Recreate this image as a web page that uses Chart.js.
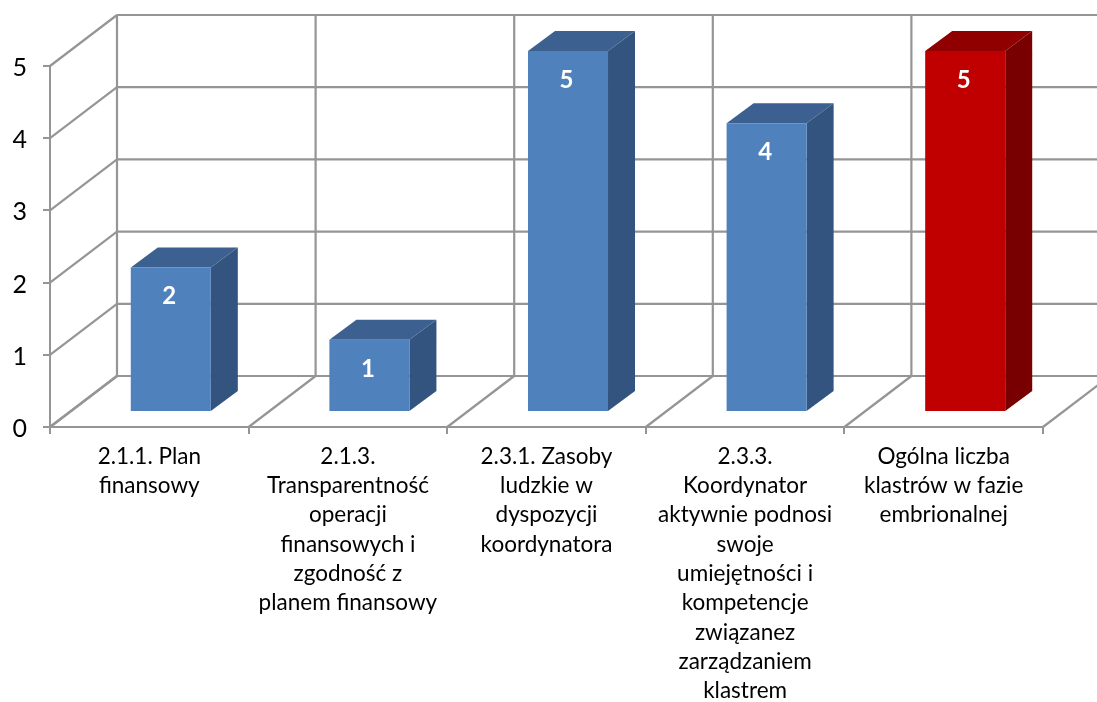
<!DOCTYPE html>
<html><head><meta charset="utf-8">
<style>html,body{margin:0;padding:0;background:#fff}canvas{display:block}</style>
<script src="https://cdn.jsdelivr.net/npm/chart.js@4/dist/chart.umd.min.js"></script>
</head><body><canvas id="c" width="1097" height="702"></canvas>
<script>
const categories = [
  ["2.1.1. Plan","finansowy"],
  ["2.1.3.","Transparentność","operacji","finansowych i","zgodność z","planem finansowy"],
  ["2.3.1. Zasoby","ludzkie w","dyspozycji","koordynatora"],
  ["2.3.3.","Koordynator","aktywnie podnosi","swoje","umiejętności i","kompetencje","związanez","zarządzaniem","klastrem"],
  ["Ogólna liczba","klastrów w fazie","embrionalnej"]
];
const values = [2, 1, 5, 4, 5];
const frontColors = ["#4f81bd","#4f81bd","#4f81bd","#4f81bd","#c00000"];
const topColors = ["#3c6190","#3c6190","#3c6190","#3c6190","#900000"];
const sideColors = ["#32547e","#32547e","#32547e","#32547e","#790000"];
const GRID = "#959595";
const WALL = {x:67, y:-51};
const BAR_SHIFT = {x:21.5, y:-15};
const BAR_DEPTH = {x:27, y:-20};

const scene = {
  id:"scene",
  beforeDatasetsDraw(ch){
    const {ctx, scales:{x,y}} = ch, a = ch.chartArea;
    ctx.save();
    ctx.strokeStyle = GRID; ctx.lineWidth = 2.2;
    const seg=(x1,y1,x2,y2)=>{ctx.beginPath();ctx.moveTo(x1,y1);ctx.lineTo(x2,y2);ctx.stroke();};
    const step = x.getPixelForValue(1)-x.getPixelForValue(0);
    const y0 = y.getPixelForValue(0), yTop = y.getPixelForValue(5);
    for(let v=0;v<=5;v++){
      const p=y.getPixelForValue(v);
      seg(a.left,p,a.left+WALL.x,p+WALL.y);
      seg(a.left+WALL.x,p+WALL.y,ch.width+2,p+WALL.y);
    }
    for(let k=0;k<=values.length;k++){
      const px=a.left+k*step;
      seg(px,y0,px+WALL.x,y0+WALL.y);
      seg(px+WALL.x,y0+WALL.y,px+WALL.x,yTop+WALL.y);
    }
    ch.getDatasetMeta(0).data.forEach((b,i)=>{
      const l=b.x-b.width/2+BAR_SHIFT.x, r=b.x+b.width/2+BAR_SHIFT.x;
      const t=b.y+BAR_SHIFT.y, bt=b.base+BAR_SHIFT.y;
      ctx.fillStyle=sideColors[i];
      ctx.beginPath();ctx.moveTo(r,t);ctx.lineTo(r+BAR_DEPTH.x,t+BAR_DEPTH.y);ctx.lineTo(r+BAR_DEPTH.x,bt+BAR_DEPTH.y);ctx.lineTo(r,bt);ctx.closePath();ctx.fill();
      ctx.fillStyle=topColors[i];
      ctx.beginPath();ctx.moveTo(l,t);ctx.lineTo(l+BAR_DEPTH.x,t+BAR_DEPTH.y);ctx.lineTo(r+BAR_DEPTH.x,t+BAR_DEPTH.y);ctx.lineTo(r,t);ctx.closePath();ctx.fill();
    });
    ctx.restore();
    ctx.save();
    ctx.translate(BAR_SHIFT.x,BAR_SHIFT.y);
  },
  afterDatasetsDraw(ch){
    const ctx=ch.ctx;
    ctx.restore();
    ctx.save();
    ctx.fillStyle="#fff"; ctx.font="bold 24px Lato"; ctx.textAlign="center"; ctx.textBaseline="middle";
    ch.getDatasetMeta(0).data.forEach((b,i)=>{
      ctx.fillText(String(values[i]),b.x+BAR_SHIFT.x-1.5,b.y+BAR_SHIFT.y+29);
    });
    ctx.restore();
  }
};

new Chart(document.getElementById("c"),{
  type:"bar",
  data:{labels:categories,datasets:[{data:values,backgroundColor:frontColors,borderWidth:0,barPercentage:0.403,categoryPercentage:1}]},
  plugins:[scene],
  options:{
    responsive:false,animation:false,
    layout:{padding:{left:0,top:66,right:54,bottom:0}},
    plugins:{legend:{display:false},tooltip:{enabled:false},title:{display:false}},
    scales:{
      x:{
        type:"category",offset:true,
        afterFit(s){s.height=275;},
        grid:{display:true,drawOnChartArea:false,drawTicks:true,tickLength:7,color:GRID,lineWidth:2,offset:true},
        border:{display:true,color:GRID,width:2},
        ticks:{autoSkip:false,maxRotation:0,minRotation:0,padding:8,color:"#000",font:{family:"Lato",size:22.5,lineHeight:1.302}}
      },
      y:{
        min:0,max:5,
        afterFit(s){s.width=50;},
        grid:{display:true,drawOnChartArea:false,drawTicks:true,tickLength:7,color:GRID,lineWidth:2},
        border:{display:true,color:GRID,width:2},
        ticks:{stepSize:1,padding:16,color:"#000",font:{family:"Lato",size:25,lineHeight:0.16},callback:v=>["",String(v)]}
      }
    }
  }
});
</script></body></html>
